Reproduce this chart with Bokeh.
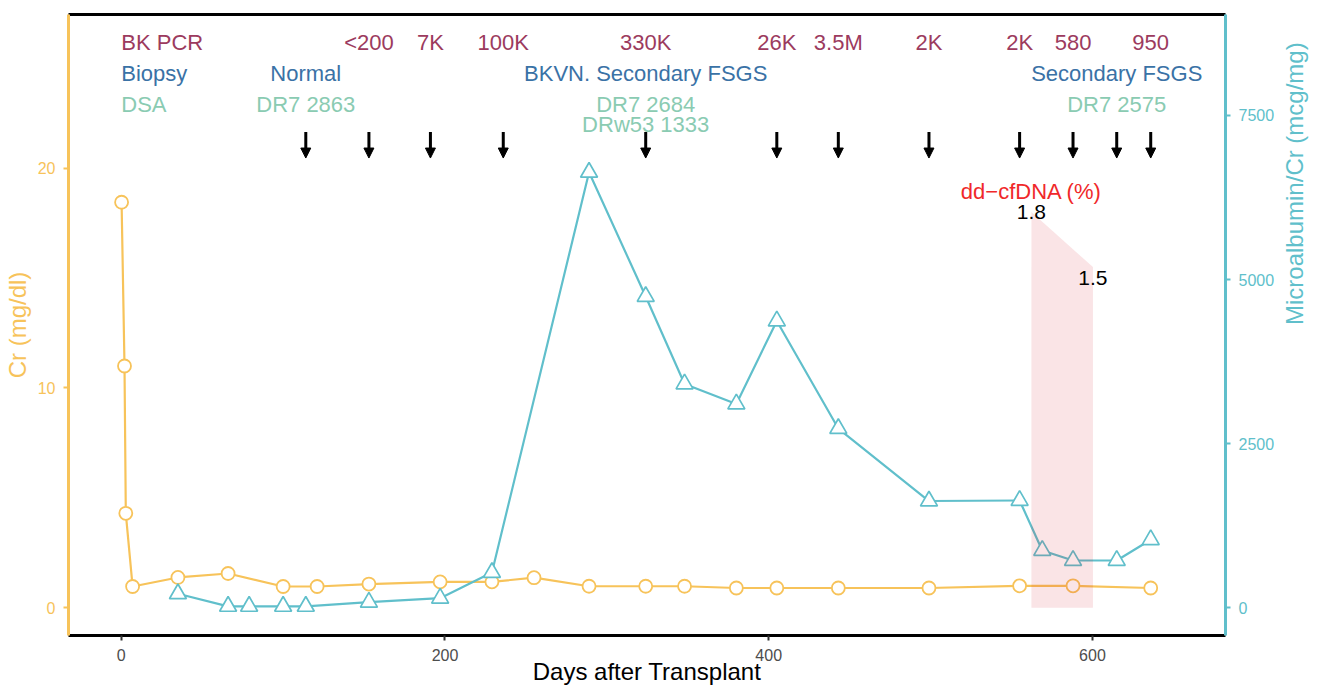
import math
from bokeh.plotting import figure
from bokeh.models import (Range1d, LinearAxis, FixedTicker, ColumnDataSource,
                          Arrow, NormalHead)
from bokeh.embed import file_html
from bokeh.resources import INLINE
from bokeh.core.properties import value

# ---------------- data ----------------
cr_days = [0.2, 2.0, 2.8, 7.0, 35, 66, 100, 121, 153, 197, 229, 255, 289, 324, 348, 380, 405, 443, 499, 555, 588, 636]
cr_vals = [18.45, 11.0, 4.3, 0.97, 1.38, 1.56, 0.97, 0.97, 1.08, 1.18, 1.18, 1.37, 0.98, 0.98, 0.98, 0.9, 0.9, 0.9, 0.9, 1.0, 1.0, 0.9]

ma_days = [35, 66, 79, 100, 114, 153, 197, 229, 289, 324, 348, 380, 405, 443, 499, 555, 569, 588, 615, 636]
ma_vals = [216, 25, 25, 25, 25, 88, 149, 540, 6635, 4743, 3411, 3107, 4371, 2733, 1629, 1637, 876, 723, 723, 1039]

arrow_days = [114, 153, 191, 236, 324, 405, 443, 499, 555, 588, 615, 636]

row_names = ["BK PCR", "Biopsy", "DSA"]
bk_days = [153, 191, 236, 324, 405, 443, 499, 555, 588, 636]
bk_labels = ["<200", "7K", "100K", "330K", "26K", "3.5M", "2K", "2K", "580", "950"]
biopsy_days = [114, 324, 615]
biopsy_labels = ["Normal", "BKVN. Secondary FSGS", "Secondary FSGS"]
dsa_days = [114, 324, 615]
dsa_labels = ["DR7 2863", "DR7 2684", "DR7 2575"]
dsa2_days = [324]
dsa2_labels = ["DRw53 1333"]

dd_days = [562.3, 600.3]
dd_pct = [1.8, 1.5]
dd_area_top = [18.0, 15.5]
dd_title = "dd\u2212cfDNA (%)"

x_ticks = [0, 200, 400, 600]
cr_ticks = [0, 10, 20]
ma_ticks = [0, 2500, 5000, 7500]

# ---------------- style ----------------
FONT = "Liberation Sans"
CR_COL = "#F7C35A"
MA_COL = "#60BFCB"
BK_COL = "#9C3B5E"
BX_COL = "#3A72A6"
DSA_COL = "#8ACBB2"
DD_COL = "#F0282A"

# row heights (Cr axis units)
Y_BK, Y_BX, Y_DSA, Y_DSA2 = 25.70, 24.29, 22.88, 22.0
Y_AR0, Y_AR1 = 21.64, 20.46

p = figure(width=1325, height=690,
           x_range=Range1d(-32.6, 682.2), y_range=Range1d(-1.26, 26.99),
           output_backend="svg", toolbar_location=None,
           min_border_left=68, min_border_right=100,
           min_border_top=14, min_border_bottom=55)
p.extra_y_ranges = {"ma": Range1d(-419, 9038)}
p.outline_line_color = None
p.grid.visible = False
p.background_fill_color = "white"
p.border_fill_color = "white"

# bottom axis
xa = p.xaxis[0]
xa.ticker = FixedTicker(ticks=x_ticks)
xa.axis_line_color = "black"
xa.axis_line_width = 3
xa.major_tick_line_color = "#333333"
xa.major_tick_line_width = 2
xa.major_tick_out = 5
xa.major_tick_in = 0
xa.minor_tick_line_color = None
xa.major_label_text_color = "#4D4D4D"
xa.major_label_text_font = FONT
xa.major_label_text_font_size = "16px"
xa.major_label_standoff = 8
xa.axis_label = "Days after Transplant"
xa.axis_label_text_font = FONT
xa.axis_label_text_font_size = "24px"
xa.axis_label_text_font_style = "normal"
xa.axis_label_text_color = "black"
xa.axis_label_standoff = -6

# left axis
ya = p.yaxis[0]
ya.ticker = FixedTicker(ticks=cr_ticks)
ya.axis_line_color = CR_COL
ya.axis_line_width = 3
ya.major_tick_line_color = CR_COL
ya.major_tick_line_width = 2
ya.major_tick_out = 5
ya.major_tick_in = 0
ya.minor_tick_line_color = None
ya.major_label_text_color = CR_COL
ya.major_label_text_font = FONT
ya.major_label_text_font_size = "16px"
ya.major_label_standoff = 8
ya.axis_label = "Cr (mg/dl)"
ya.axis_label_text_font = FONT
ya.axis_label_text_font_size = "24px"
ya.axis_label_text_font_style = "normal"
ya.axis_label_text_color = CR_COL
ya.axis_label_standoff = 4

# right axis
yr = LinearAxis(y_range_name="ma", ticker=FixedTicker(ticks=ma_ticks))
yr.axis_line_color = MA_COL
yr.axis_line_width = 3
yr.major_tick_line_color = MA_COL
yr.major_tick_line_width = 2
yr.major_tick_out = 5
yr.major_tick_in = 0
yr.minor_tick_line_color = None
yr.major_label_text_color = MA_COL
yr.major_label_text_font = FONT
yr.major_label_text_font_size = "16px"
yr.major_label_standoff = 8
yr.axis_label = "Microalbumin/Cr (mcg/mg)"
yr.axis_label_text_font = FONT
yr.axis_label_text_font_size = "24px"
yr.axis_label_text_font_style = "normal"
yr.axis_label_text_color = MA_COL
yr.axis_label_standoff = 17
try:
    yr.axis_label_orientation = math.pi / 2
except Exception:
    pass
p.add_layout(yr, "right")

# top border line
ta = LinearAxis(major_tick_line_color=None, minor_tick_line_color=None,
                major_label_text_font_size="0px", major_label_standoff=0,
                major_tick_out=0, major_tick_in=0,
                axis_line_color="black", axis_line_width=3)
ta.ticker = FixedTicker(ticks=[])
p.add_layout(ta, "above")

# ---------------- series ----------------
cr_src = ColumnDataSource(dict(x=cr_days, y=cr_vals))
ma_src = ColumnDataSource(dict(x=ma_days, y=ma_vals))

p.line("x", "y", source=cr_src, line_color=CR_COL, line_width=2.2)
p.scatter("x", "y", source=cr_src, marker="circle", size=13,
          fill_color="white", line_color=CR_COL, line_width=1.8)

p.line("x", "y", source=ma_src, y_range_name="ma", line_color=MA_COL, line_width=2.2)
p.scatter("x", "y", source=ma_src, y_range_name="ma", marker="triangle", size=17,
          fill_color="white", line_color=MA_COL, line_width=1.7)

# dd-cfDNA shaded area
p.varea(x=dd_days, y1=[0, 0], y2=dd_area_top, fill_color="#CD0A1E", fill_alpha=0.11)

# arrows
ar_src = ColumnDataSource(dict(x0=arrow_days, x1=arrow_days,
                               y0=[Y_AR0] * len(arrow_days), y1=[Y_AR1] * len(arrow_days)))
p.add_layout(Arrow(end=NormalHead(size=10, fill_color="black", line_color="black", line_width=1),
                   x_start="x0", y_start="y0", x_end="x1", y_end="y1",
                   source=ar_src, line_color="black", line_width=3))

# ---------------- texts ----------------
def add_text(xs, ys, texts, colors, align="center", size="22px"):
    if isinstance(colors, str):
        colors = [colors] * len(xs)
    src = ColumnDataSource(dict(x=xs, y=ys, t=texts, c=colors))
    p.text("x", "y", text="t", source=src, text_font=value(FONT),
           text_font_size=size, text_color="c", text_align=align,
           text_baseline="middle")

add_text([0, 0, 0], [Y_BK, Y_BX, Y_DSA], row_names, [BK_COL, BX_COL, DSA_COL], align="left")
add_text(bk_days, [Y_BK] * len(bk_days), bk_labels, BK_COL)
add_text(biopsy_days, [Y_BX] * len(biopsy_days), biopsy_labels, BX_COL)
add_text(dsa_days, [Y_DSA] * len(dsa_days), dsa_labels, DSA_COL)
add_text(dsa2_days, [Y_DSA2], dsa2_labels, DSA_COL)

add_text([dd_days[0]], [18.95], [dd_title], DD_COL)
add_text(dd_days, [dd_pct[0] * 10, dd_pct[1] * 10], ["%.1f" % v for v in dd_pct], "black", size="21px")

open("out.html", "w").write(file_html(p, INLINE))
